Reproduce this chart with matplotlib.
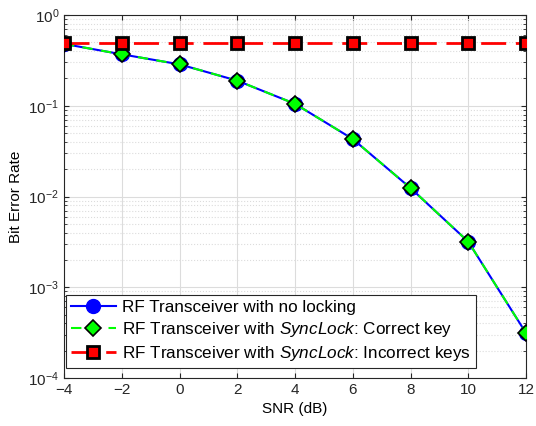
import numpy as np
import matplotlib
matplotlib.use("Agg")
import matplotlib.pyplot as plt

plt.rcParams['font.family'] = ['Liberation Sans', 'DejaVu Sans']
plt.rcParams['mathtext.fontset'] = 'custom'
plt.rcParams['mathtext.rm'] = 'Liberation Sans'
plt.rcParams['mathtext.it'] = 'Liberation Sans:italic'

# Data
snr = [-4, -2, 0, 2, 4, 6, 8, 10, 12]
ber_no_lock = [0.48, 0.369, 0.286, 0.189, 0.105, 0.043, 0.0124, 0.00318, 0.000313]
ber_correct = [0.48, 0.369, 0.286, 0.189, 0.105, 0.043, 0.0124, 0.00318, 0.000313]
ber_incorrect = [0.49, 0.49, 0.49, 0.49, 0.49, 0.49, 0.49, 0.49, 0.49]

fig = plt.figure(figsize=(5.36, 4.26), dpi=100)
ax = fig.add_axes([64/536, 48/426, 462/536, 363/426])

ax.semilogy(snr, ber_no_lock, '-', color='blue', linewidth=1.5,
            marker='o', markersize=10, markerfacecolor='blue', markeredgecolor='blue',
            label='RF Transceiver with no locking', zorder=3)
ax.semilogy(snr, ber_correct, '--', color='#00ff00', linewidth=1.5, dashes=(5, 4),
            marker='D', markersize=8, markerfacecolor='#00ff00', markeredgecolor='black',
            markeredgewidth=1.2,
            label=r'RF Transceiver with $\mathit{SyncLock}$: Correct key', zorder=4)
ax.semilogy(snr, ber_incorrect, '--', color='red', linewidth=2, dashes=(9, 3.5),
            marker='s', markersize=9, markerfacecolor='red', markeredgecolor='black',
            markeredgewidth=2,
            label=r'RF Transceiver with $\mathit{SyncLock}$: Incorrect keys', zorder=5)

ax.set_xlim(-4, 12)
ax.set_ylim(1e-4, 1)
ax.set_xticks(np.arange(-4, 13, 2))
ax.set_xlabel('SNR (dB)', fontsize=11)
ax.set_ylabel('Bit Error Rate', fontsize=11)

ax.grid(True, which='major', color='#dcdcdc', linewidth=0.8)
ax.grid(True, which='minor', color='#dcdcdc', linestyle=':', linewidth=0.8)
ax.set_axisbelow(True)
ax.tick_params(which='both', direction='in', top=True, right=True,
               labelsize=11, colors='#262626')
for s in ax.spines.values():
    s.set_color('#262626')
    s.set_linewidth(0.8)

leg = ax.legend(loc='lower left', bbox_to_anchor=(2/462, 10/363), fontsize=12.3,
                fancybox=False, framealpha=1, edgecolor='#262626', borderaxespad=0,
                handlelength=2.6, handletextpad=0.4, labelspacing=0.3, borderpad=0.3)
leg.get_frame().set_linewidth(0.8)

fig.savefig('out.png', dpi=100)
